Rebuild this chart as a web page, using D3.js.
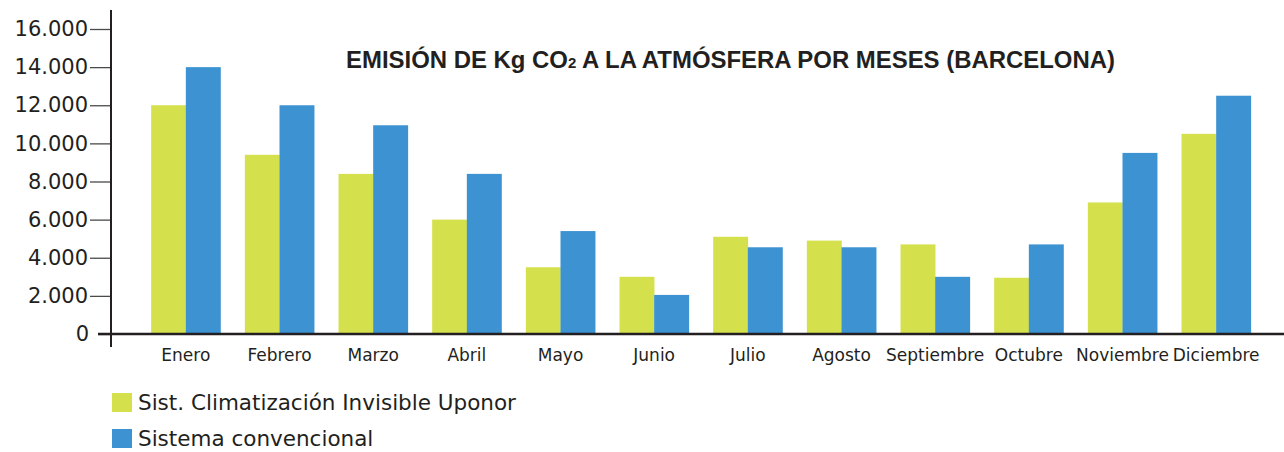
<!DOCTYPE html>
<html>
<meta charset="utf-8">
<script src="https://d3js.org/d3.v7.min.js"></script>
<style>
    body { margin: 0; background: #fff; }
    text { fill: #231f20; }
</style>
<body>
    <div id="chart"></div>
    <script>

        // months and the two series (kg CO2)
        var months = ["Enero", "Febrero", "Marzo", "Abril", "Mayo", "Junio", "Julio",
            "Agosto", "Septiembre", "Octubre", "Noviembre", "Diciembre"];
        var uponor = [12000, 9400, 8400, 6000, 3500, 3000, 5100, 4900, 4700, 2950, 6900, 10500];
        var convencional = [14000, 12000, 10950, 8400, 5400, 2050, 4550, 4550, 3000, 4700, 9500, 12500];
        var seriesNames = ["Sist. Climatización Invisible Uponor", "Sistema convencional"];
        var yTicks = [0, 2000, 4000, 6000, 8000, 10000, 12000, 14000, 16000];

        var colors = ["#d4e04c", "#3d93d2"];
        var width = 1284, height = 452;

        var svg = d3.select("#chart").append("svg")
            .attr("width", width)
            .attr("height", height);

        var fmt = d3.formatLocale({ decimal: ",", thousands: ".", grouping: [3], currency: ["", ""] }).format(",");

        // scales
        var x = d3.scaleBand()
            .domain(months)
            .range([139, 1263])
            .paddingInner(0.26)
            .paddingOuter(0.13);

        var xSub = d3.scaleBand()
            .domain([0, 1])
            .range([0, x.bandwidth()]);

        var y = d3.scaleLinear()
            .domain([0, 16000])
            .range([334, 29]);

        // bars
        var data = months.map(function (m, i) { return { month: m, values: [uponor[i], convencional[i]] }; });

        var groups = svg.selectAll(".grp")
            .data(data)
            .enter().append("g")
            .attr("transform", function (d) { return "translate(" + x(d.month) + ",0)"; });

        groups.selectAll("rect")
            .data(function (d) { return d.values; })
            .enter().append("rect")
            .attr("x", function (d, j) { return xSub(j); })
            .attr("y", function (d) { return y(d); })
            .attr("width", xSub.bandwidth() + 0.3)
            .attr("height", function (d) { return y(0) - y(d); })
            .style("fill", function (d, j) { return colors[j]; });

        // y axis
        var yAxis = svg.append("g")
            .attr("transform", "translate(111,0)")
            .call(d3.axisLeft(y).tickValues(yTicks).tickFormat(fmt).tickSize(21).tickPadding(2));
        yAxis.select(".domain").remove();
        yAxis.selectAll(".tick line").attr("stroke", "#4a4a4a").attr("stroke-width", 1.3);
        yAxis.selectAll(".tick text")
            .style("font-family", "'DejaVu Sans', sans-serif")
            .style("font-size", "21px")
            .style("fill", "#231f20");
        yAxis.selectAll(".tick").filter(function (d) { return d === 0; }).select("line")
            .attr("x2", -13);
        yAxis.selectAll(".tick").filter(function (d) { return d === 0; }).select("text")
            .attr("x", -22);

        svg.append("line")
            .attr("x1", 111).attr("x2", 111)
            .attr("y1", 10).attr("y2", 347)
            .attr("stroke", "#231f20").attr("stroke-width", 2);

        // baseline
        svg.append("line")
            .attr("x1", 98).attr("x2", width)
            .attr("y1", y(0)).attr("y2", y(0))
            .attr("stroke", "#231f20").attr("stroke-width", 2.5);

        // x labels
        var xAxis = svg.append("g")
            .attr("transform", "translate(0," + (y(0) + 15) + ")")
            .call(d3.axisBottom(x).tickSize(0).tickPadding(0));
        xAxis.select(".domain").remove();
        xAxis.selectAll(".tick text")
            .style("font-family", "'DejaVu Sans', sans-serif")
            .style("font-size", "17px")
            .style("fill", "#231f20");

        // title
        var title = svg.append("text")
            .attr("x", 346)
            .attr("y", 68)
            .attr("textLength", 769)
            .attr("lengthAdjust", "spacingAndGlyphs")
            .style("font-family", "'Liberation Sans', Arial, sans-serif")
            .style("font-weight", "bold")
            .style("font-size", "24px");
        title.append("tspan").text("EMISIÓN DE Kg CO");
        title.append("tspan").style("font-size", "15px").text("2");
        title.append("tspan").text(" A LA ATMÓSFERA POR MESES (BARCELONA)");

        // legend
        var legend = svg.selectAll(".leg")
            .data(seriesNames)
            .enter().append("g")
            .attr("transform", function (d, i) { return "translate(112," + (393 + i * 36) + ")"; });
        legend.append("rect")
            .attr("width", 20).attr("height", 19)
            .style("fill", function (d, i) { return colors[i]; });
        legend.append("text")
            .attr("x", 26).attr("y", 17)
            .style("font-family", "'DejaVu Sans', sans-serif")
            .style("font-size", "21.5px")
            .text(function (d) { return d; });

    </script>
</body>
</html>
